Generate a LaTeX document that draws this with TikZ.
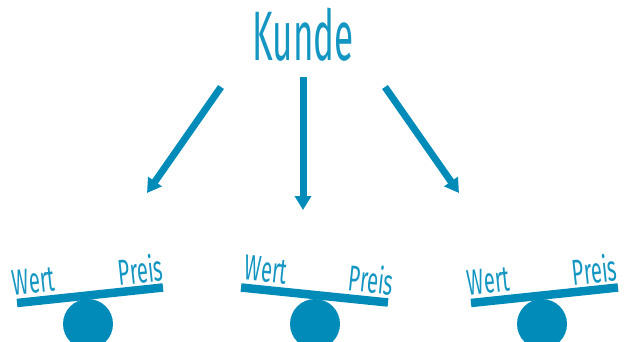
\documentclass[tikz,border=0pt]{standalone}
\usepackage{fontspec}
\newfontfamily\hand[FakeStretch=0.5]{Fira Sans}
\newfontfamily\handlbl[FakeStretch=0.56]{Fira Sans}
\usetikzlibrary{arrows.meta}
\definecolor{teal1}{RGB}{0,139,184}
\definecolor{tealtext}{RGB}{20,150,195}
\tikzset{
  bigarrow/.style={draw=teal1, line width=7pt, -{Triangle[length=14pt,width=16pt]}},
  seesawbar/.style={draw=teal1, line width=8.5pt},
  pivot/.style={fill=teal1},
  lbl/.style={text=tealtext, font=\handlbl\fontsize{36}{36}\selectfont, inner sep=0pt, anchor=base},
  title/.style={text=tealtext, font=\hand\fontsize{70}{70}\selectfont, inner sep=0pt, anchor=base}
}
\begin{document}
\begin{tikzpicture}[x=1pt,y=-1pt]
\useasboundingbox (0,0) rectangle (624,342);
\clip (0,0) rectangle (624,342);
% title
\node[title] (kunde) at (303,61) {Kunde};
% arrows
\coordinate (a1s) at (221,87);  \coordinate (a1e) at (147,193);
\coordinate (a2s) at (303,77);  \coordinate (a2e) at (303,210);
\coordinate (a3s) at (385,87);  \coordinate (a3e) at (459,193);
\draw[bigarrow] (a1s) -- (a1e);
\draw[bigarrow] (a2s) -- (a2e);
\draw[bigarrow] (a3s) -- (a3e);
% left seesaw
\fill[pivot] (88,324) circle (25);
\coordinate (l1) at (17,303); \coordinate (l2) at (163,287.5);
\draw[seesawbar] (l1) -- (l2);
\node[lbl, rotate=6] (w1) at (35,293) {Wert};
\node[lbl, rotate=6] (p1) at (142,283) {Preis};
% middle seesaw
\fill[pivot] (315,324) circle (25);
\coordinate (m1) at (241,287.5); \coordinate (m2) at (388,302.5);
\draw[seesawbar] (m1) -- (m2);
\node[lbl, rotate=-6] (w2) at (265,282) {Wert};
\node[lbl, rotate=-6] (p2) at (370,293) {Preis};
% right seesaw
\fill[pivot] (542,324) circle (25);
\coordinate (r1) at (471,303); \coordinate (r2) at (618,287.5);
\draw[seesawbar] (r1) -- (r2);
\node[lbl, rotate=6] (w3) at (490,293) {Wert};
\node[lbl, rotate=6] (p3) at (596,283) {Preis};
\end{tikzpicture}
\end{document}
